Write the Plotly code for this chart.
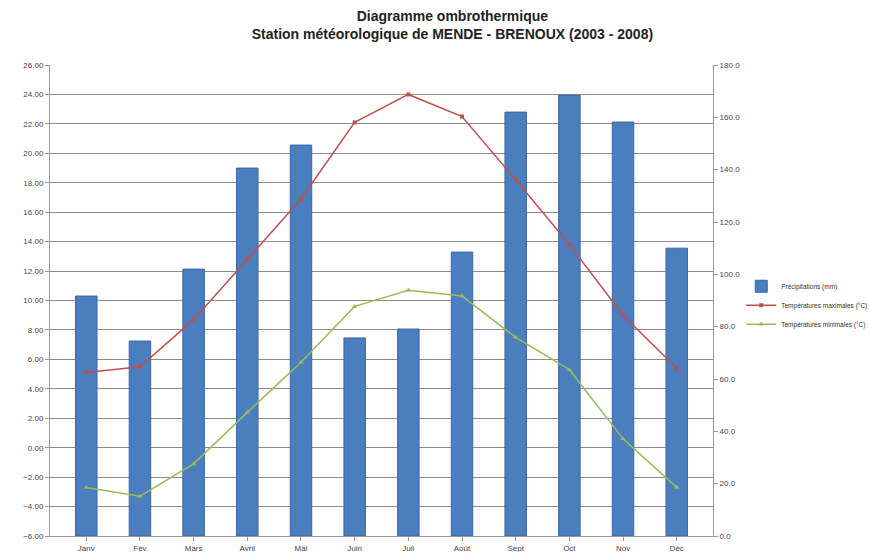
import plotly.graph_objects as go

# Monthly climate normals, Mende - Brenoux (2003 - 2008)
mois = ["Janv", "Fév", "Mars", "Avril", "Mai", "Juin",
        "Juil", "Août", "Sept", "Oct", "Nov", "Déc"]
precipitations = [91.7, 74.5, 102.0, 140.6, 149.4, 75.7,
                  79.1, 108.5, 162.0, 168.5, 158.2, 110.0]
temp_max = [5.1, 5.5, 8.7, 12.8, 16.9, 22.1, 24.0, 22.5, 18.2, 13.8, 9.0, 5.4]
temp_min = [-2.7, -3.3, -1.1, 2.4, 5.8, 9.6, 10.7, 10.3, 7.5, 5.3, 0.6, -2.7]

fig = go.Figure()

# Bars on the base (right-hand, mm) axis so the temperature lines sit on top
fig.add_trace(go.Bar(
    x=mois, y=precipitations, name="Précipitations (mm)",
    marker=dict(color="#4a7ebf", line=dict(color="#3a67a6", width=1)),
    yaxis="y",
))
fig.add_trace(go.Scatter(
    x=mois, y=temp_max, name="Températures maximales (°C)",
    mode="lines+markers",
    line=dict(color="#c0504d", width=1.5),
    marker=dict(symbol="square", size=4, color="#c0504d"),
    yaxis="y2",
))
fig.add_trace(go.Scatter(
    x=mois, y=temp_min, name="Températures minimales (°C)",
    mode="lines+markers",
    line=dict(color="#9bbb59", width=1.5),
    marker=dict(symbol="triangle-up", size=5, color="#9bbb59"),
    yaxis="y2",
))

axis_font = dict(family="Liberation Sans, Arial, sans-serif", size=8, color="#444")

fig.update_layout(
    width=870, height=552,
    margin=dict(l=50, r=157, t=65, b=16, autoexpand=False),
    paper_bgcolor="white", plot_bgcolor="white",
    bargap=0.6,
    title=dict(
        text="Diagramme ombrothermique<br>Station météorologique de MENDE - BRENOUX (2003 - 2008)",
        x=0.52, xanchor="center", y=0.962, yanchor="middle",
        font=dict(family="Liberation Sans, Arial, sans-serif", size=14, color="#222", weight="bold"),
    ),
    xaxis=dict(
        showgrid=False, showline=True, linecolor="#999", linewidth=1,
        ticks="outside", ticklen=4, tickcolor="#999",
        tickfont=axis_font, automargin=False,
    ),
    yaxis=dict(
        range=[0, 180], dtick=20, tickformat=".1f",
        side="right", showgrid=False,
        showline=True, linecolor="#999", linewidth=1,
        ticks="outside", ticklen=4, tickcolor="#999",
        zeroline=False, tickfont=axis_font, automargin=False,
    ),
    yaxis2=dict(
        range=[-6, 26], dtick=2, tick0=0, tickformat=".2f",
        overlaying="y", side="left",
        showgrid=True, gridcolor="#8c8c8c", gridwidth=1,
        showline=True, linecolor="#999", linewidth=1,
        ticks="outside", ticklen=4, tickcolor="#999",
        zeroline=False, tickfont=axis_font, automargin=False,
    ),
    legend=dict(
        xref="container", yref="container",
        x=0.852, y=0.447, xanchor="left", yanchor="middle",
        font=dict(family="Liberation Sans, Arial, sans-serif", size=6.5, color="#333"),
        tracegroupgap=0, itemwidth=30,
    ),
)

fig.write_html("out.html")
